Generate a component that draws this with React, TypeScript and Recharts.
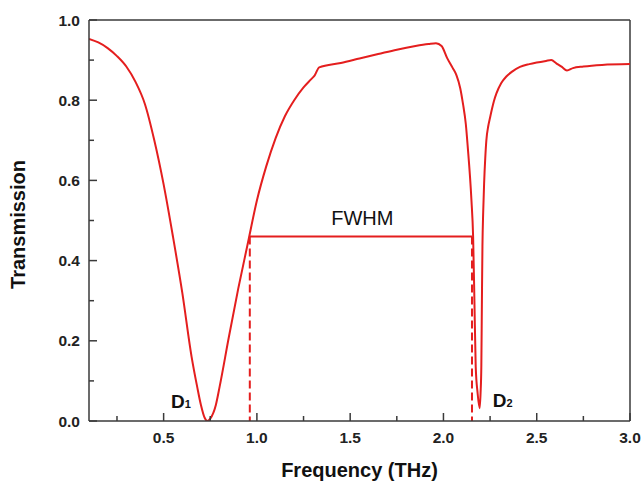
import React from 'react';
import { LineChart, Line, XAxis, YAxis, ReferenceLine, ReferenceDot } from 'recharts';

const freq = [
  0.10, 0.15, 0.20, 0.25, 0.30, 0.35, 0.40, 0.45, 0.50, 0.55, 0.60, 0.65, 0.68, 0.70, 0.72, 0.734,
  0.75, 0.78, 0.80, 0.85, 0.90, 0.95, 1.00, 1.05, 1.10, 1.15, 1.20, 1.25, 1.29, 1.31, 1.334,
  1.45, 1.55, 1.65, 1.75, 1.85, 1.92, 1.96, 1.99, 2.02, 2.05, 2.07, 2.09, 2.105, 2.12, 2.13,
  2.15, 2.159, 2.166, 2.173, 2.183, 2.194, 2.199, 2.203, 2.206, 2.209, 2.213, 2.218, 2.224, 2.23,
  2.24, 2.25, 2.26, 2.27, 2.284, 2.31, 2.337, 2.37, 2.41, 2.46, 2.50, 2.55, 2.578, 2.605, 2.635,
  2.662, 2.694, 2.75, 2.85, 3.0,
];
const trans = [
  0.953, 0.944, 0.930, 0.910, 0.884, 0.845, 0.790, 0.700, 0.590, 0.460, 0.320, 0.160, 0.085, 0.040, 0.008, 0.0,
  0.006, 0.040, 0.085, 0.210, 0.330, 0.440, 0.550, 0.635, 0.705, 0.760, 0.800, 0.832, 0.852, 0.862, 0.882,
  0.893, 0.904, 0.915, 0.926, 0.935, 0.940, 0.942, 0.935, 0.905, 0.880, 0.862, 0.830, 0.790, 0.740, 0.685,
  0.551, 0.460, 0.300, 0.135, 0.070, 0.032, 0.070, 0.135, 0.290, 0.435, 0.520, 0.593, 0.655, 0.700,
  0.735, 0.757, 0.778, 0.797, 0.817, 0.843, 0.859, 0.872, 0.883, 0.890, 0.894, 0.898, 0.900, 0.892, 0.883,
  0.874, 0.880, 0.884, 0.888, 0.890,
];

const xTicks = [0.25, 0.5, 0.75, 1.0, 1.25, 1.5, 1.75, 2.0, 2.25, 2.5, 2.75, 3.0];
const yTicks = [0, 0.1, 0.2, 0.3, 0.4, 0.5, 0.6, 0.7, 0.8, 0.9, 1.0];

const fwhmLevel = 0.46;
const fwhmLeft = 0.962;
const fwhmRight = 2.153;

const data = freq.map((f, i) => ({ f, t: trans[i] }));

const RED = '#e41e1e';
const AXIS = '#3a3a3a';
const FONT = '"Liberation Sans", Arial, sans-serif';

const isMajor = (v: number, step: number) => Math.abs(v / step - Math.round(v / step)) < 1e-6;

const XTick = (props: any) => {
  const { x, y, payload } = props;
  const v = payload.value;
  const major = isMajor(v, 0.5);
  return (
    <g>
      <line x1={x} y1={y} x2={x} y2={y - (major ? 8 : 5)} stroke={AXIS} strokeWidth={1.5} />
      {major && (
        <text x={x} y={y + 22} textAnchor="middle" fontFamily={FONT} fontWeight="bold" fontSize={15.5} fill="#222">
          {v.toFixed(1)}
        </text>
      )}
    </g>
  );
};

const YTick = (props: any) => {
  const { x, y, payload } = props;
  const v = payload.value;
  const major = isMajor(v, 0.2);
  return (
    <g>
      <line x1={x} y1={y} x2={x + (major ? 8 : 5)} y2={y} stroke={AXIS} strokeWidth={1.5} />
      {major && (
        <text x={x - 9} y={y + 5.5} textAnchor="end" fontFamily={FONT} fontWeight="bold" fontSize={15.5} fill="#222">
          {v.toFixed(1)}
        </text>
      )}
    </g>
  );
};

const DLabel = (sub: string) => (props: any) => {
  const vb = props.viewBox || {};
  return (
    <text x={vb.x} y={vb.y} fontFamily={FONT} fontWeight="bold" fontSize={19} fill="#111">
      D<tspan fontSize={11}>{sub}</tspan>
    </text>
  );
};

const FwhmLabel = (props: any) => {
  const vb = props.viewBox || {};
  return (
    <text x={vb.x} y={vb.y} textAnchor="middle" fontFamily={FONT} fontSize={20} fill="#111">
      FWHM
    </text>
  );
};

export default function App() {
  return (
    <div style={{ width: 644, height: 482, overflow: 'hidden', background: '#fff' }}>
      <style>{`html,body{margin:0;padding:0;overflow:hidden;background:#fff}`}</style>
      <LineChart width={644} height={482} data={data} margin={{ top: 20, right: 14, left: 0, bottom: 0 }}>
        <XAxis
          dataKey="f"
          type="number"
          domain={[0.1, 3.0]}
          ticks={xTicks}
          allowDataOverflow
          tickSize={0}
          tickMargin={0}
          tickLine={false}
          tick={XTick}
          height={61}
          axisLine={{ stroke: AXIS, strokeWidth: 1.5 }}
          label={{
            content: (p: any) => {
              const vb = p.viewBox || {};
              return (
                <text x={vb.x + vb.width / 2} y={vb.y + 56} textAnchor="middle" fontFamily={FONT} fontWeight="bold" fontSize={20} fill="#111">
                  Frequency (THz)
                </text>
              );
            },
          }}
        />
        <YAxis
          type="number"
          domain={[0, 1]}
          ticks={yTicks}
          allowDataOverflow
          tickSize={0}
          tickMargin={0}
          tickLine={false}
          tick={YTick}
          width={89}
          axisLine={{ stroke: AXIS, strokeWidth: 1.5 }}
          label={{
            content: (p: any) => {
              const vb = p.viewBox || {};
              const cx = 25;
              const cy = vb.y + vb.height / 2 + 4;
              return (
                <text x={cx} y={cy} transform={`rotate(-90 ${cx} ${cy})`} textAnchor="middle" fontFamily={FONT} fontWeight="bold" fontSize={20} fill="#111">
                  Transmission
                </text>
              );
            },
          }}
        />
        <ReferenceLine y={1} stroke={AXIS} strokeWidth={1.5} />
        <ReferenceLine x={3} stroke={AXIS} strokeWidth={1.5} />
        <ReferenceLine
          segment={[{ x: fwhmLeft, y: fwhmLevel }, { x: fwhmRight, y: fwhmLevel }]}
          stroke={RED}
          strokeWidth={2}
        />
        <ReferenceLine
          segment={[{ x: fwhmLeft, y: fwhmLevel }, { x: fwhmLeft, y: 0 }]}
          stroke={RED}
          strokeWidth={2}
          strokeDasharray="8 4"
        />
        <ReferenceLine
          segment={[{ x: fwhmRight, y: fwhmLevel }, { x: fwhmRight, y: 0 }]}
          stroke={RED}
          strokeWidth={2}
          strokeDasharray="8 4"
        />
        <Line
          type="monotone"
          dataKey="t"
          stroke={RED}
          strokeWidth={2}
          dot={false}
          isAnimationActive={false}
        />
        <ReferenceDot x={0.539} y={0.032} r={0} fill="none" stroke="none" label={{ content: DLabel('1') }} />
        <ReferenceDot x={2.264} y={0.035} r={0} fill="none" stroke="none" label={{ content: DLabel('2') }} />
        <ReferenceDot x={1.565} y={0.489} r={0} fill="none" stroke="none" label={{ content: FwhmLabel }} />
      </LineChart>
    </div>
  );
}
